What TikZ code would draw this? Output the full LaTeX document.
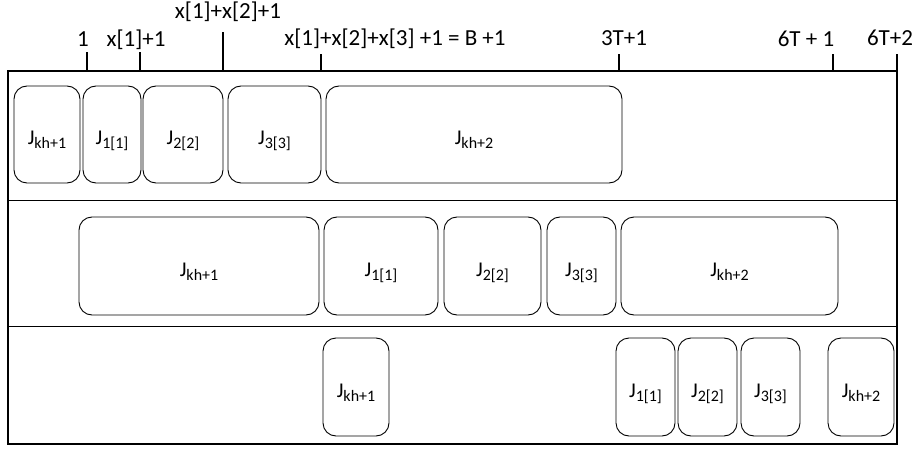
\documentclass[tikz,border=0pt]{standalone}
\usepackage{fontspec}
\setmainfont{Carlito}
\newcommand{\jlab}[1]{J\raisebox{-4pt}{\fontsize{16}{16}\selectfont #1}}

\begin{document}
\begin{tikzpicture}[x=1pt,y=-1pt,
    job/.style={draw, rounded corners=13pt, line width=0.9pt, inner sep=0pt,
        text height=20pt, text depth=0pt, font=\fontsize{21}{24}\selectfont},
    row1/.style={job, minimum height=97pt},
    row2/.style={job, minimum height=98pt},
    row3/.style={job, minimum height=98pt},
    ticklbl/.style={anchor=base, inner sep=0pt, font=\fontsize{23}{27}\selectfont},
    tickline/.style={line width=1.2pt}]
    \useasboundingbox (0,0) rectangle (920,449);

    % frame and rows
    \coordinate (fnw) at (8,71);
    \coordinate (fse) at (897,444);
    \draw[line width=1.3pt] (fnw) rectangle (fse);
    \draw[line width=1.3pt] (8,200.7) -- (897,200.7);
    \draw[line width=1.3pt] (8,326.7) -- (897,326.7);

    % time axis
    \node[ticklbl] (t1) at (83,47) {1};
    \node[ticklbl] (tx1) at (136,47) {x[1]+1};
    \node[ticklbl] (tx2) at (228,19) {x[1]+x[2]+1};
    \node[ticklbl] (tB) at (395,46) {x[1]+x[2]+x[3] +1 = B +1};
    \node[ticklbl] (t3T) at (624,46) {3T+1};
    \node[ticklbl] (t6T) at (806,47) {6T + 1};
    \node[ticklbl] (t6T2) at (890,46) {6T+2};

    \draw[tickline] (87,71) -- (87,52);
    \draw[tickline] (140,71) -- (140,52);
    \draw[tickline] (223,71) -- (223,32);
    \draw[tickline] (321,71) -- (321,54);
    \draw[tickline] (619,71) -- (619,54);
    \draw[tickline] (833,71) -- (833,54);
    \draw[tickline] (897,71) -- (897,54);

    % first row
    \node[row1, minimum width=66pt] (r1kh1) at (47,134.5) {\jlab{kh+1}};
    \node[row1, minimum width=58pt] (r1j1) at (112,134.5) {\jlab{1[1]}};
    \node[row1, minimum width=80pt] (r1j2) at (183,134.5) {\jlab{2[2]}};
    \node[row1, minimum width=93pt] (r1j3) at (274.5,134.5) {\jlab{3[3]}};
    \node[row1, minimum width=296pt] (r1kh2) at (474,134.5) {\jlab{kh+2}};

    % second row
    \node[row2, minimum width=240pt] (r2kh1) at (199,266) {\jlab{kh+1}};
    \node[row2, minimum width=114pt] (r2j1) at (381,266) {\jlab{1[1]}};
    \node[row2, minimum width=97pt] (r2j2) at (492.5,266) {\jlab{2[2]}};
    \node[row2, minimum width=69pt] (r2j3) at (581.5,266) {\jlab{3[3]}};
    \node[row2, minimum width=217pt] (r2kh2) at (729.5,266) {\jlab{kh+2}};

    % third row
    \node[row3, minimum width=66pt] (r3kh1) at (356,387) {\jlab{kh+1}};
    \node[row3, minimum width=59pt] (r3j1) at (645.5,387) {\jlab{1[1]}};
    \node[row3, minimum width=59pt] (r3j2) at (707.5,387) {\jlab{2[2]}};
    \node[row3, minimum width=59pt] (r3j3) at (770.5,387) {\jlab{3[3]}};
    \node[row3, minimum width=66pt] (r3kh2) at (861,387) {\jlab{kh+2}};

\end{tikzpicture}
\end{document}
